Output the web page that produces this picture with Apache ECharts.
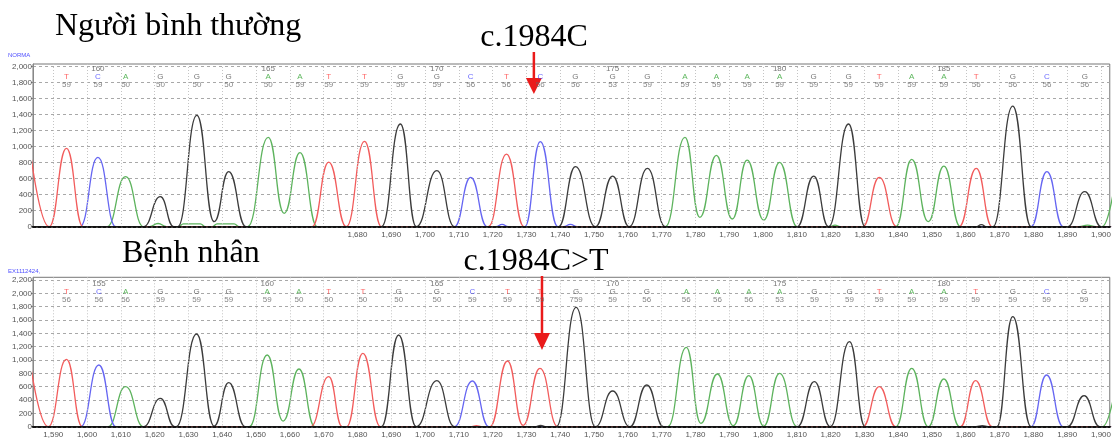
<!DOCTYPE html>
<html>
<head>
<meta charset="utf-8">
<title>c.1984C&gt;T</title>
<script src="https://cdn.jsdelivr.net/npm/echarts@6/dist/echarts.min.js"></script>
<style>
html,body{margin:0;padding:0;background:#fff;}
#main{width:1114px;height:441px;}
</style>
</head>
<body>
<div id="main"></div>
<script>
// axis ticks
var xTicks = [1590,1600,1610,1620,1630,1640,1650,1660,1670,1680,1690,1700,1710,1720,1730,1740,1750,1760,1770,1780,1790,1800,1810,1820,1830,1840,1850,1860,1870,1880,1890,1900];
var topXLabels = [1680,1690,1700,1710,1720,1730,1740,1750,1760,1770,1780,1790,1800,1810,1820,1830,1840,1850,1860,1870,1880,1890,1900];
var topYTicks = [0,200,400,600,800,1000,1200,1400,1600,1800,2000];
var botYTicks = [0,200,400,600,800,1000,1200,1400,1600,1800,2000,2200];

// base calls
var topBases = ['T','C','A','G','G','G','A','A','T','T','G','G','C','T','C','G','G','G','A','A','A','A','G','G','T','A','A','T','G','C','G'];
var topQV = [59,59,50,50,50,50,50,59,59,59,59,59,56,56,56,56,53,59,59,59,59,59,59,59,59,59,59,56,56,56,56];
var topCallPos = [1593.9,1603.2,1611.4,1621.7,1632.5,1641.9,1653.6,1663.0,1671.5,1682.1,1692.7,1703.5,1713.5,1724.1,1734.1,1744.5,1755.5,1765.8,1776.9,1786.2,1795.3,1804.9,1815.0,1825.3,1834.4,1844.0,1853.5,1863.1,1873.9,1884.0,1895.2];
var topFirstBase = 159;

var botBases = ['T','C','A','G','G','G','A','A','T','T','G','G','C','T','T','G','G','G','A','A','A','A','G','G','T','A','A','T','G','C','G'];
var botQV = [56,56,56,59,59,59,59,50,50,50,50,50,59,59,59,759,59,56,56,56,56,53,59,59,59,59,59,59,59,59,59];
var botCallPos = [1593.9,1603.5,1611.4,1621.7,1632.4,1641.9,1653.3,1662.7,1671.5,1681.6,1692.2,1703.5,1714.0,1724.4,1734.0,1744.7,1755.5,1765.6,1777.3,1786.5,1795.8,1804.9,1815.2,1825.6,1834.4,1844.0,1853.5,1862.9,1873.9,1883.9,1895.0];
var botFirstBase = 154;

// traces, normal sample: [scan, signal]
var topT = [[1583,1010],[1588.8,0],[1593.9,980],[1598.8,0],[1666.6,0],[1671.5,808],[1676.7,0],[1682.1,1067],[1687.1,0],[1718.7,0],[1724.1,908],[1729.3,0],[1829.5,0],[1834.4,617],[1839.6,0],[1858.0,0],[1863.1,729],[1867.8,0],[1903,0]];
var topC = [[1583,0],[1597.9,0],[1603.2,867],[1608.5,0],[1708.7,0],[1713.5,617],[1718.4,0],[1721,0],[1722.8,30],[1724.6,0],[1729.5,0],[1734.1,1063],[1739.3,0],[1741,0],[1743,30],[1745,0],[1879.3,0],[1884.0,688],[1888.8,0],[1903,0]];
var topA = [[1583,0],[1605.9,0],[1611.4,625],[1616.7,0],[1618.5,0],[1621,40],[1623.5,0],[1627,0],[1628.5,35],[1633.5,35],[1635,0],[1637,0],[1638.5,35],[1643.5,35],[1645,0],[1647.5,0],[1653.6,1117],[1658.3,167],[1663.0,925],[1668.1,0],[1771.1,0],[1776.9,1117],[1781.3,117],[1786.2,892],[1790.9,96],[1795.3,833],[1800.2,83],[1804.9,804],[1810.1,0],[1819.8,0],[1821.3,20],[1822.8,0],[1839.3,0],[1844.0,842],[1848.9,63],[1853.5,758],[1858.4,0],[1893.5,0],[1896,20],[1898.5,0],[1900.3,0],[1905,800]];
var topG = [[1583,0],[1616.7,0],[1621.7,375],[1625.6,0],[1626.8,0],[1632.5,1392],[1637.6,63],[1641.9,688],[1647.0,0],[1687.1,0],[1692.7,1284],[1697.4,0],[1703.5,700],[1708.7,0],[1739.5,0],[1744.5,750],[1750.4,0],[1755.5,633],[1760.4,0],[1765.8,729],[1771.1,0],[1810.1,0],[1815.0,633],[1819.4,0],[1825.3,1284],[1830.2,0],[1863,0],[1864.6,25],[1866.2,0],[1868.0,0],[1873.9,1508],[1879.3,0],[1890.1,0],[1895.2,438],[1900.1,0],[1903,0]];

// traces, patient
var botT = [[1583,1020],[1588.5,0],[1593.9,1010],[1598.6,0],[1666.1,0],[1671.5,750],[1675.5,0],[1676.8,0],[1681.6,1100],[1686.8,0],[1713.8,0],[1715.2,15],[1716.6,0],[1719.2,0],[1724.4,985],[1729.0,20],[1734.0,875],[1739.3,0],[1829.5,0],[1834.4,600],[1839.3,0],[1858.4,0],[1862.9,690],[1867.8,0],[1903,0]];
var botC = [[1583,0],[1598.1,0],[1603.5,925],[1608.5,0],[1708.7,0],[1714.0,685],[1718.9,0],[1879.3,0],[1883.9,775],[1888.8,0],[1903,0]];
var botA = [[1583,0],[1606.2,0],[1611.4,600],[1616.7,0],[1648,0],[1653.3,1075],[1658.0,85],[1662.7,865],[1667.4,0],[1771.8,0],[1777.3,1190],[1781.6,50],[1786.5,790],[1791.2,15],[1795.8,765],[1800.2,10],[1804.9,800],[1810.1,0],[1839.3,0],[1844.0,875],[1848.9,0],[1853.5,715],[1858.2,0],[1900.4,0],[1905,800]];
var botG = [[1583,0],[1616.7,0],[1621.7,425],[1625.9,0],[1626.4,0],[1632.4,1390],[1637.6,10],[1641.9,660],[1646.8,0],[1687.1,0],[1692.2,1375],[1697.4,0],[1703.5,690],[1708.7,0],[1732.5,0],[1734.2,20],[1735.9,0],[1738.8,0],[1744.7,1790],[1750.4,0],[1755.5,535],[1760.6,0],[1765.6,625],[1770.6,0],[1810.2,0],[1815.2,675],[1819.9,0],[1825.6,1275],[1830.2,0],[1863,0],[1864.9,15],[1866.6,0],[1869.2,0],[1873.9,1650],[1879.3,0],[1890.1,0],[1895.0,465],[1899.6,0],[1903,0]];

var traceColor = {T:'#f25c5c', C:'#6666f2', A:'#5db35d', G:'#3c3c3c'};
var callColor = {T:'#ff3c3c', C:'#4646ff', A:'#35a535', G:'#555555'};
var xMin = 1584, xMax = 1902.6;
var yMaxTop = 2034, yMaxBot = 2240;

var myChart = echarts.init(document.getElementById('main'));

function fmt(v){
	return Number(v).toLocaleString('en-US');
}

function xAxisOf(idx, labels){
	return {
		type:'value', gridIndex:idx, min:xMin, max:xMax, z:10,
		axisLine:{lineStyle:{color:'#111', width:2, type:[3,2]}},
		axisTick:{show:false, customValues:xTicks},
		axisLabel:{customValues:labels, formatter:fmt, fontSize:8, color:'#555', margin:4, fontFamily:'Liberation Sans'},
		splitLine:{show:true, lineStyle:{color:'#c4c4c4', width:1, type:[1,2]}}
	};
}

function yAxisOf(idx, ticks, max){
	return {
		type:'value', gridIndex:idx, min:0, max:max,
		axisLine:{show:true, lineStyle:{color:'#888', width:1}},
		axisTick:{show:true, length:2, customValues:ticks, lineStyle:{color:'#888'}},
		axisLabel:{customValues:ticks, formatter:fmt, fontSize:8, color:'#555', margin:1, fontFamily:'Liberation Sans'},
		splitLine:{show:true, lineStyle:{color:'#a8a8a8', width:1, type:[3,3]}}
	};
}

function trace(points, base, idx){
	return {
		type:'line', xAxisIndex:idx, yAxisIndex:idx, data:points,
		smooth:0.5, smoothMonotone:'x', symbol:'none', clip:true, silent:true,
		lineStyle:{color:traceColor[base], width:1.3}
	};
}

function calls(pos, bases, qv, first, idx, yTop, dist){
	var rich = {
		n:{fontSize:8, lineHeight:8, color:'#555', fontFamily:'Liberation Sans'},
		q:{fontSize:8, lineHeight:8, color:'#666', fontFamily:'Liberation Sans'}
	};
	['T','C','A','G'].forEach(function(b){
		rich[b] = {fontSize:8, lineHeight:8, color:callColor[b], fontFamily:'Liberation Sans'};
	});
	return {
		type:'scatter', xAxisIndex:idx, yAxisIndex:idx, symbolSize:1, silent:true,
		itemStyle:{color:'rgba(0,0,0,0)'},
		data:pos.map(function(x, i){
			var n = (first + i) % 5 === 0 ? String(first + i) : ' ';
			return {value:[x, yTop], base:bases[i], qv:qv[i], num:n};
		}),
		label:{
			show:true, position:'bottom', distance:dist, rich:rich,
			formatter:function(p){
				return '{n|' + p.data.num + '}\n{' + p.data.base + '|' + p.data.base + '}\n{q|' + p.data.qv + '}';
			}
		}
	};
}

var option = {
	animation:false,
	backgroundColor:'#fff',
	grid:[
		{left:33, top:64, right:0, bottom:214.3, show:true, borderColor:'#777', borderWidth:1},
		{left:33, top:277.3, right:0, bottom:14.3, show:true, borderColor:'#777', borderWidth:1}
	],
	xAxis:[xAxisOf(0, topXLabels), xAxisOf(1, xTicks)],
	yAxis:[yAxisOf(0, topYTicks, yMaxTop), yAxisOf(1, botYTicks, yMaxBot)],
	series:[
		trace(topA, 'A', 0), trace(topC, 'C', 0), trace(topT, 'T', 0), trace(topG, 'G', 0),
		trace(botA, 'A', 1), trace(botC, 'C', 1), trace(botT, 'T', 1), trace(botG, 'G', 1),
		calls(topCallPos, topBases, topQV, topFirstBase, 0, yMaxTop, 0),
		calls(botCallPos, botBases, botQV, botFirstBase, 1, yMaxBot, 2)
	]
};
myChart.setOption(option);

// chu thich + mui ten
var serif = '32px "Liberation Serif", "DejaVu Serif", serif';
var arrowTop = myChart.convertToPixel({xAxisIndex:0}, 1732.2);
var arrowBot = myChart.convertToPixel({xAxisIndex:1}, 1734.6);
var red = '#ea1a1a';

myChart.setOption({
	graphic:[
		{type:'text', style:{x:8, y:52, text:'NORMA', font:'6px "Liberation Sans"', fill:'#5050ff'}},
		{type:'text', style:{x:8, y:268, text:'EX1112424,', font:'6px "Liberation Sans"', fill:'#5050ff'}},
		{type:'text', style:{x:55, y:27, text:'Người bình thường', font:serif, fill:'#000', verticalAlign:'middle'}},
		{type:'text', style:{x:534, y:38, text:'c.1984C', font:serif, fill:'#000', align:'center', verticalAlign:'middle'}},
		{type:'text', style:{x:122, y:254, text:'Bệnh nhân', font:serif, fill:'#000', verticalAlign:'middle'}},
		{type:'text', style:{x:536, y:262, text:'c.1984C>T', font:serif, fill:'#000', align:'center', verticalAlign:'middle'}},
		{type:'line', shape:{x1:arrowTop, y1:52, x2:arrowTop, y2:80}, style:{stroke:red, lineWidth:2.5}},
		{type:'polygon', shape:{points:[[arrowTop - 8, 78], [arrowTop + 8, 78], [arrowTop, 94]]}, style:{fill:red}},
		{type:'line', shape:{x1:arrowBot, y1:276, x2:arrowBot, y2:335}, style:{stroke:red, lineWidth:2.5}},
		{type:'polygon', shape:{points:[[arrowBot - 8, 333], [arrowBot + 8, 333], [arrowBot, 350]]}, style:{fill:red}}
	]
});
</script>
</body>
</html>
